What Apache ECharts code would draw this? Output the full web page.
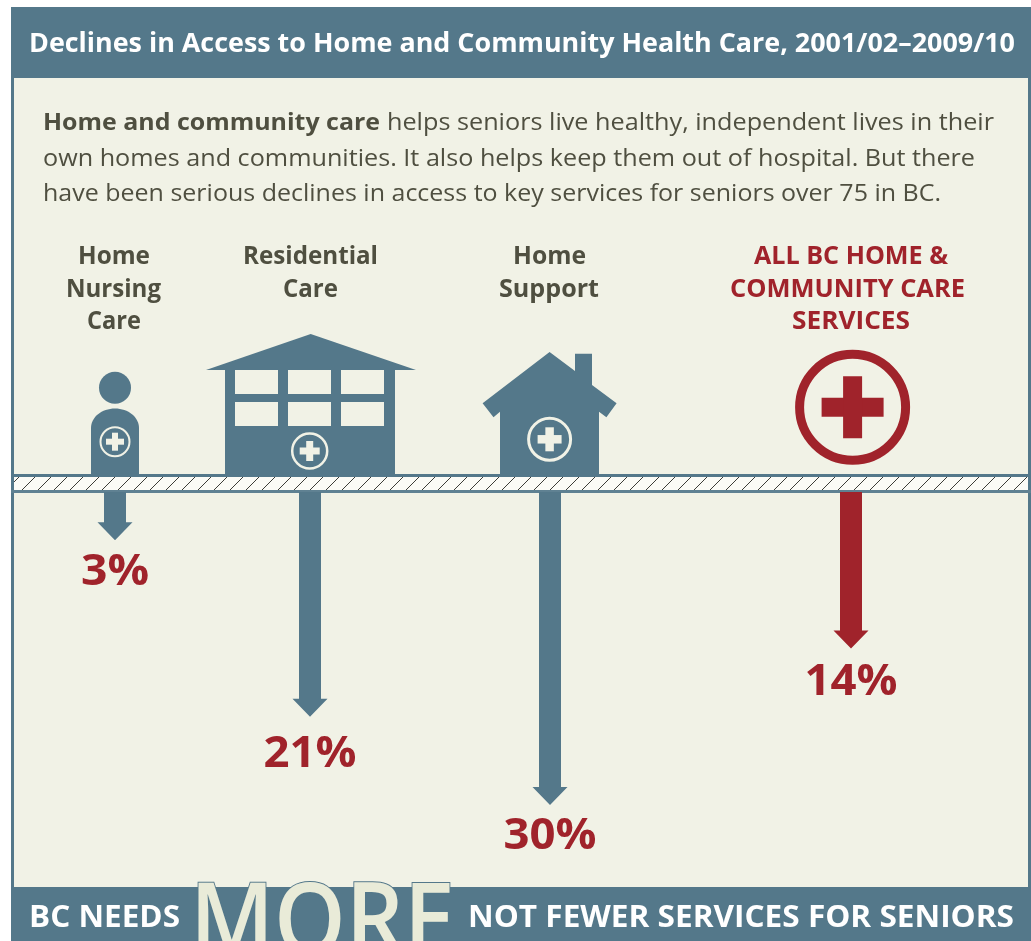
<!DOCTYPE html>
<html><head><meta charset="utf-8">
<style>html,body{margin:0;padding:0;background:#fff;overflow:hidden}#c{width:1031px;height:941px}</style>
<script src="https://cdn.jsdelivr.net/npm/echarts@6/dist/echarts.min.js"></script>
</head><body><div id="c"></div>
<script>
// ---- data ----
const categories = ['Home Nursing Care', 'Residential Care', 'Home Support', 'All BC Home & Community Care Services'];
const declines = [3, 21, 30, 14];              // printed percentages
const arrowDepth = [4.6, 21.4, 29.8, 14.9];    // length of each arrow as drawn, in percent units
const title = 'Declines in Access to Home and Community Health Care, 2001/02–2009/10';
const footerLeft = 'BC NEEDS';
const footerBig = 'MORE';
const footerRight = 'NOT FEWER SERVICES FOR SENIORS';

// ---- layout and style ----
const STEEL = '#54788a', RED = '#a0232b', PANEL = '#f1f2e6', INK = '#4f4f40', CREAM = '#e9ebd8';
const FF = '"Open Sans"';
const MID = 0.30;
const columnX = [115, 310, 550, 851];
const columnColor = [STEEL, STEEL, STEEL, RED];
const labelDrop = [45, 51, 45, 47];
const measure = document.createElement('canvas').getContext('2d');

// a line of text placed by left edge, right edge and baseline
function line(text, x0, x1, base, size, weight, fill, extra) {
  measure.font = weight + ' ' + size + 'px ' + FF;
  const w = measure.measureText(text).width;
  return Object.assign({
    type: 'text', x: x0, y: base - MID * size, scaleX: (x1 - x0) / w, z: 5, silent: true,
    style: { text, fill, fontFamily: FF, fontSize: size, fontWeight: weight, align: 'left', verticalAlign: 'middle' }
  }, extra || {});
}
function rect(x, y, w, h, fill, z) {
  return { type: 'rect', silent: true, z: z || 1, shape: { x, y, width: w, height: h }, style: { fill } };
}
function poly(points, fill, z) {
  return { type: 'polygon', silent: true, z: z || 2, shape: { points }, style: { fill } };
}
function badge(cx, cy, r, lw, span, thick, color, z) {
  return [
    { type: 'circle', silent: true, z: z || 3, shape: { cx, cy, r }, style: { fill: 'none', stroke: color, lineWidth: lw } },
    rect(cx - span / 2, cy - thick / 2, span, thick, color, z || 3),
    rect(cx - thick / 2, cy - span / 2, thick, span, color, z || 3)
  ];
}

const g = [];
// panel
g.push(rect(11, 7, 1020, 934, STEEL, 0));
g.push(rect(14, 78, 1014, 809, PANEL, 0));
g.push(rect(11, 887, 1020, 54, STEEL, 0));

// ground band
g.push(rect(14, 476, 1014, 15, '#fbfbf6', 1));
g.push(rect(11, 474, 1020, 3, STEEL, 3));
g.push(rect(11, 490, 1020, 3, '#5f8192', 3));
for (let x = 5; x < 1028; x += 16) {
  const x0 = Math.max(x, 14), x1 = Math.min(x + 14, 1028);
  g.push({ type: 'line', silent: true, z: 2,
    shape: { x1: x0, y1: 491 - (x0 - x), x2: x1, y2: 491 - (x1 - x) },
    style: { stroke: '#3d3d38', lineWidth: 1 } });
}

// person
g.push({ type: 'circle', silent: true, z: 2, shape: { cx: 115, cy: 387.7, r: 16 }, style: { fill: STEEL } });
g.push({ type: 'ellipse', silent: true, z: 2, shape: { cx: 115, cy: 428, rx: 24, ry: 19.5 }, style: { fill: STEEL } });
g.push(rect(91, 428, 48, 46, STEEL, 2));
g.push(...badge(115, 441.7, 14.5, 2, 18, 6, PANEL));

// residential building
g.push(poly([[206, 370], [310.7, 334], [416, 370]], STEEL));
g.push(rect(225, 370, 170, 104, STEEL, 2));
[235, 288, 341].forEach(x => [370, 402].forEach(y => g.push(rect(x, y, 43, 24, PANEL, 3))));
g.push(...badge(309.7, 451, 17.5, 2.5, 20, 7, PANEL));

// house
g.push(poly([[549.6, 352], [575, 371], [575, 353.7], [592, 353.7], [592, 385], [616.6, 403.3], [606.4, 417.3], [599, 411.7],
  [599, 474], [500, 474], [500, 411.7], [493.5, 417.3], [482.6, 403.3]], STEEL));
g.push(...badge(549.6, 439.3, 21, 3, 24, 8.5, PANEL));

// red badge
g.push(...badge(852.6, 407.3, 53, 9, 62, 19, RED));

// texts
g.push(line(title, 29, 1015, 52, 26, 700, '#ffffff'));
g.push(line('Home and community care', 43, 380, 130, 24, 700, INK));
g.push(line('helps seniors live healthy, independent lives in their', 387, 994, 130, 24, 400, INK));
g.push(line('own homes and communities. It also helps keep them out of hospital. But there', 43, 975, 166, 24, 400, INK));
g.push(line('have been serious declines in access to key services for seniors over 75 in BC.', 43, 941, 201, 24, 400, INK));

g.push(line('Home', 78, 150, 264.5, 24.5, 700, INK));
g.push(line('Nursing', 66, 161, 297, 24.5, 700, INK));
g.push(line('Care', 87, 141, 329, 24.5, 700, INK));
g.push(line('Residential', 243, 378, 264.5, 24.5, 700, INK));
g.push(line('Care', 283, 338, 297, 24.5, 700, INK));
g.push(line('Home', 513, 586, 264.5, 24.5, 700, INK));
g.push(line('Support', 499, 599, 297, 24.5, 700, INK));
g.push(line('ALL BC HOME &', 754, 948, 264, 25, 700, RED));
g.push(line('COMMUNITY CARE', 730, 965, 297, 25, 700, RED));
g.push(line('SERVICES', 792, 910, 329, 25, 700, RED));

g.push(line(footerLeft, 29, 180, 927, 30, 700, '#ffffff', { z: 6 }));
g.push(line(footerRight, 468, 1014, 927, 30, 700, '#ffffff', { z: 6 }));
const big = line(footerBig, 190, 455, 956, 100, 600, CREAM, { z: 6 });
big.style.stroke = STEEL; big.style.lineWidth = 2;
big.style.strokeFirst = true;
g.push(big);

// arrows through the chart's own scales
const rows = categories.map((c, i) => [columnX[i], arrowDepth[i], declines[i], i]);
function arrow(params, api) {
  const i = api.value(3);
  const base = api.coord([api.value(0), 0]);
  const tip = api.coord([api.value(0), api.value(1)]);
  const color = columnColor[i], head = 18, s = 11, h = 17.5;
  const text = api.value(2) + '%';
  const size = 43, weight = 700;
  measure.font = weight + ' ' + size + 'px ' + FF;
  const targetW = text.length === 2 ? 68 : 93;
  const neck = tip[1] - head, cx = tip[0];
  return {
    type: 'group',
    children: [
      { type: 'polygon', shape: { points: [[cx - s, base[1]], [cx + s, base[1]], [cx + s, neck], [cx + h, neck], [cx, tip[1]], [cx - h, neck], [cx - s, neck]] }, style: { fill: color } },
      { type: 'text', x: cx, y: tip[1] + labelDrop[i] - MID * size, scaleX: targetW / measure.measureText(text).width,
        style: { text, fill: RED, fontFamily: FF, fontSize: size, fontWeight: weight, align: 'center', verticalAlign: 'middle' } }
    ]
  };
}

const chart = echarts.init(document.getElementById('c'), null, { renderer: 'canvas' });
chart.setOption({
  animation: false,
  backgroundColor: '#ffffff',
  grid: { left: 0, right: 0, top: 492, height: 420 },
  xAxis: { type: 'value', min: 0, max: 1031, show: false },
  yAxis: { type: 'value', min: 0, max: 40, inverse: true, show: false },
  graphic: { elements: g },
  series: [{
    type: 'custom', coordinateSystem: 'cartesian2d', data: rows, renderItem: arrow, silent: true, z: 4,
    encode: { x: 0, y: 1 }
  }]
});
</script></body></html>
